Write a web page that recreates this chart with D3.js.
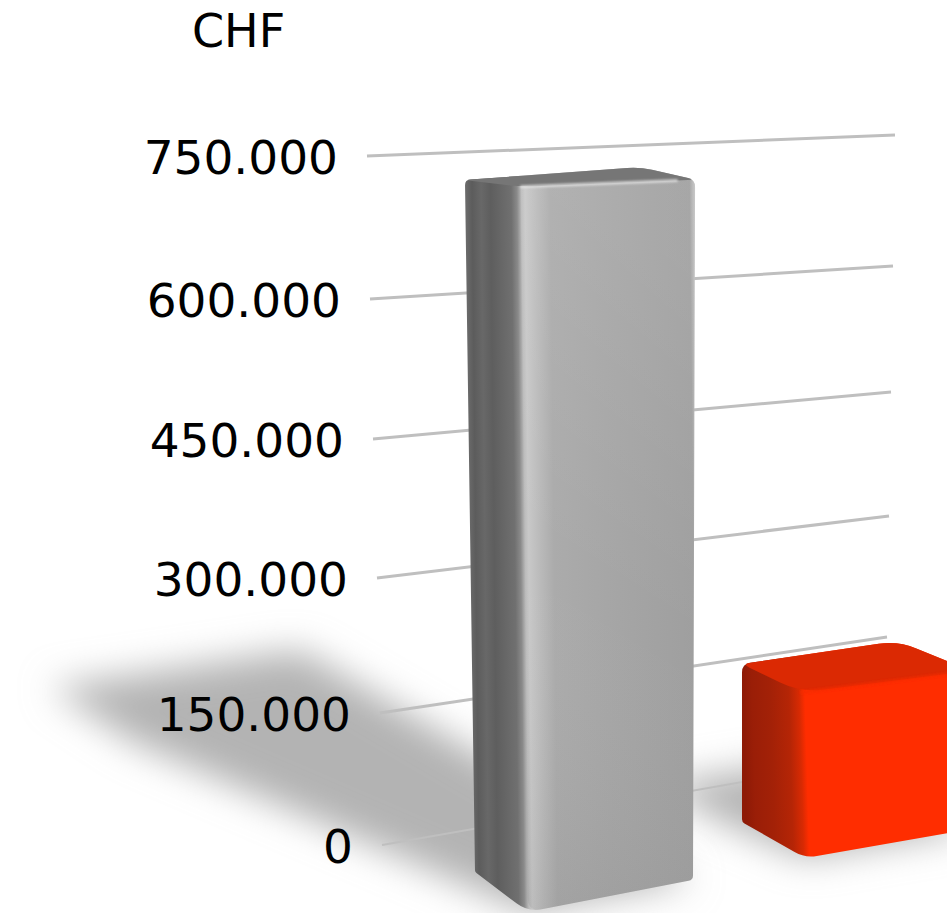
<!DOCTYPE html>
<html>
<head>
<meta charset="utf-8">
<script src="https://cdn.jsdelivr.net/npm/d3@7"></script>
<style>
    html, body { margin: 0; padding: 0; background: #fff; overflow: hidden; }
    text { font-family: "DejaVu Sans", sans-serif; fill: #000; }
</style>
</head>
<body>
<div id="chart"></div>
<script>
const categories = ['Grau', 'Rot'];
const barValues = [725000, 145000];
const tickValues = [0, 150000, 300000, 450000, 600000, 750000];
const unitLabel = 'CHF';

const width = 947;
const height = 913;

const de = d3.formatLocale({ decimal: ',', thousands: '.', grouping: [3], currency: ['', ''] });
const tickFormat = de.format(',d');

// the back wall is in perspective, so ticks are not evenly spaced
const wallLeftX = d3.scaleLinear().domain(tickValues).range([382, 380, 377, 373, 370, 367]);
const wallLeftY = d3.scaleLinear().domain(tickValues).range([845, 713, 578, 439, 299, 156]);
const wallRightX = d3.scaleLinear().domain(tickValues).range([885, 887, 889, 891, 893, 895]);
const wallRightY = d3.scaleLinear().domain(tickValues).range([757, 637, 516, 392, 266, 135]);

const xScale = d3.scaleBand()
    .domain(categories)
    .range([475, 960])
    .paddingInner(0.1835)
    .paddingOuter(0);

// 0 = first bar, 1 = last bar
const along = d3.scaleLinear().domain([xScale(categories[0]), xScale(categories[1])]).range([0, 1]);
const floorY = d3.scaleLinear().domain([0, 1]).range([872, 822]);
const frontDx = d3.scaleLinear().domain([0, 1]).range([53, 63]);
const frontDy = d3.scaleLinear().domain([0, 1]).range([40, 36]);
const runY = d3.scaleLinear().domain([0, 1]).range([-32, -29]);
const backPull = d3.scaleLinear().domain([0, 1]).range([0, -15]);
const topRunY = d3.scaleLinear().domain([0, 1]).range([-13, -23]);
const pxPerValue = d3.scaleLinear().domain([0, 1]).range([692 / 725000, 158 / 145000]);
const leanLeft = d3.scaleLinear().domain([0, 1]).range([-0.0145, 0]);
const leanFront = d3.scaleLinear().domain([0, 1]).range([-0.011, -0.03]);
const cornerRound = d3.scaleLinear().domain([0, 1]).range([9, 14]);
const bottomRound = d3.scaleLinear().domain([0, 1]).range([14, 12]);
const shadowLen = d3.scaleLinear().domain([0, 725000]).range([0, 1]);

const faces = [
    {
        stops: [[0, '#6c6c6c'], [0.03, '#5c5c5c'], [0.07, '#686868'], [0.11, '#5e5e5e'], [0.15, '#666666'],
            [0.2, '#707070'], [0.225, '#8a8a8a'], [0.245, '#bcbcbc'], [0.26, '#c8c8c8'], [0.31, '#bababa'],
            [0.37, '#ababab'], [0.6, '#a6a6a6'], [0.975, '#9f9f9f'], [0.99, '#b8b8b8'], [1, '#c4c4c4']],
        top: '#767676', rim: '#e8e8e8', shade: 0.08
    },
    {
        stops: [[0, '#8e1a06'], [0.04, '#9a1e07'], [0.12, '#a32107'], [0.2, '#b52506'], [0.245, '#d82a03'],
            [0.27, '#ff2d00'], [1, '#ff2d00']],
        top: '#db2903', rim: '#f52c01', shade: 0
    }
];

const svg = d3.select('#chart')
    .append('svg')
        .attr('width', width)
        .attr('height', height)
        .style('display', 'block');

const defs = svg.append('defs');

defs.append('filter')
        .attr('id', 'soft')
        .attr('filterUnits', 'userSpaceOnUse')
        .attr('x', -100).attr('y', 500).attr('width', width + 200).attr('height', height)
    .append('feGaussianBlur')
        .attr('stdDeviation', 18);

defs.append('filter')
        .attr('id', 'rimBlur')
        .attr('filterUnits', 'userSpaceOnUse')
        .attr('x', 0).attr('y', 0).attr('width', width + 100).attr('height', height)
    .append('feGaussianBlur')
        .attr('stdDeviation', 1.2);

const add = (a, b, k = 1) => [a[0] + b[0] * k, a[1] + b[1] * k];

function barCorners(cat, value) {
    const x0 = xScale(cat);
    const t = along(x0);
    const h = value * pxPerValue(t);
    const bw = xScale.bandwidth();

    const L0 = [x0, floorY(t)];
    const F0 = add(L0, [frontDx(t), frontDy(t)]);
    const R0 = add(L0, [bw + (bw * 0.05 * t), frontDy(t) + runY(t)]);
    const B0 = add(L0, [R0[0] - F0[0], R0[1] - F0[1]]);

    const L1 = [L0[0] + leanLeft(t) * h, L0[1] - h];
    const F1 = [F0[0] + leanFront(t) * h, F0[1] - h * 1.048];
    const R1 = [R0[0] + 0.003 * h, R0[1] - h * (1.012 - 0.012 * t)];
    const B1 = add(L1, [R1[0] - F1[0] + backPull(t), topRunY(t)]);

    return { L0, F0, R0, B0, L1, F1, R1, B1 };
}

// polygon with softened corners, r is one radius per point
function roundPoly(points, r) {
    const path = d3.path();
    const n = points.length;
    points.forEach((p, i) => {
        const prev = points[(i + n - 1) % n];
        const next = points[(i + 1) % n];
        const toward = (q) => {
            const d = Math.hypot(q[0] - p[0], q[1] - p[1]);
            const k = Math.min(r[i], d / 2) / d;
            return [p[0] + (q[0] - p[0]) * k, p[1] + (q[1] - p[1]) * k];
        };
        const a = toward(prev);
        const b = toward(next);
        if (i === 0) path.moveTo(a[0], a[1]);
        else path.lineTo(a[0], a[1]);
        path.quadraticCurveTo(p[0], p[1], b[0], b[1]);
    });
    path.closePath();
    return path.toString();
}

// shadows first, they fall across the floor and under the tick labels
const shadows = svg.append('g');
categories.forEach((cat, i) => {
    const c = barCorners(cat, barValues[i]);
    const k = shadowLen(barValues[i]);
    const poly = [
        c.F0,
        add(c.F0, [-395, -170], k),
        add(c.L0, [-425, -185], k),
        add(c.B0, [-340, -190], k),
        c.R0
    ];
    shadows.append('polygon')
        .attr('points', poly.map(p => p.join(',')).join(' '))
        .attr('fill', '#b3b3b3')
        .attr('filter', 'url(#soft)');
});

svg.append('g').selectAll('line')
    .data(tickValues)
    .enter()
    .append('line')
        .attr('x1', d => wallLeftX(d))
        .attr('y1', d => wallLeftY(d))
        .attr('x2', d => wallRightX(d))
        .attr('y2', d => wallRightY(d))
        .attr('stroke', '#bfbfbf')
        .attr('stroke-width', d => d === 0 ? 2 : 3);

svg.append('g').selectAll('text')
    .data(tickValues)
    .enter()
    .append('text')
        .attr('x', d => wallLeftX(d) - 29)
        .attr('y', d => wallLeftY(d) + 18)
        .attr('text-anchor', 'end')
        .attr('font-size', 47)
        .text(d => tickFormat(d));

svg.append('text')
    .attr('x', 192)
    .attr('y', 47)
    .attr('font-size', 46)
    .text(unitLabel);

categories.forEach((cat, i) => {
    const c = barCorners(cat, barValues[i]);
    const style = faces[i];
    const t = along(xScale(cat));
    const r = cornerRound(t);
    const rb = bottomRound(t);
    const g = svg.append('g');

    // gradient runs across the body, square to the front edge
    const span = c.R1[0] - c.L1[0];
    const edge = [c.F0[0] - c.F1[0], c.F0[1] - c.F1[1]];
    const slope = edge[0] / edge[1];
    const grad = defs.append('linearGradient')
        .attr('id', `body${i}`)
        .attr('gradientUnits', 'userSpaceOnUse')
        .attr('x1', c.L1[0]).attr('y1', c.L1[1])
        .attr('x2', c.L1[0] + span).attr('y2', c.L1[1] - span * slope);
    style.stops.forEach(s => grad.append('stop').attr('offset', s[0]).attr('stop-color', s[1]));

    g.append('path')
        .attr('d', roundPoly([c.L1, c.B1, c.R1, c.R0, c.F0, c.L0],
            [r * 0.6, r * 1.4, r * 0.8, r * 0.5, rb, r * 0.2]))
        .attr('fill', `url(#body${i})`);

    if (style.shade > 0) {
        const sh = defs.append('linearGradient')
            .attr('id', `shade${i}`)
            .attr('x1', 0.15).attr('y1', 0).attr('x2', 0).attr('y2', 1);
        sh.append('stop').attr('offset', 0).attr('stop-color', '#fff').attr('stop-opacity', style.shade);
        sh.append('stop').attr('offset', 0.5).attr('stop-color', '#fff').attr('stop-opacity', 0);
        sh.append('stop').attr('offset', 1).attr('stop-color', '#000').attr('stop-opacity', style.shade * 0.75);
        g.append('path')
            .attr('d', roundPoly([c.F1, c.R1, c.R0, c.F0], [0, r * 0.8, r * 0.5, rb]))
            .attr('fill', `url(#shade${i})`);
    }

    g.append('path')
        .attr('d', roundPoly([c.L1, c.B1, c.R1, c.F1], [r * 0.6, r * 1.4, r * 0.8, r * 1.6]))
        .attr('fill', style.top);

    g.append('path')
        .attr('d', `M${add(c.F1, [c.R1[0] - c.F1[0], c.R1[1] - c.F1[1]], 0.9).join(',')}L${c.F1.join(',')}`)
        .attr('fill', 'none')
        .attr('stroke', style.rim)
        .attr('stroke-width', 3)
        .attr('opacity', 0.75)
        .attr('filter', 'url(#rimBlur)');
});
</script>
</body>
</html>
